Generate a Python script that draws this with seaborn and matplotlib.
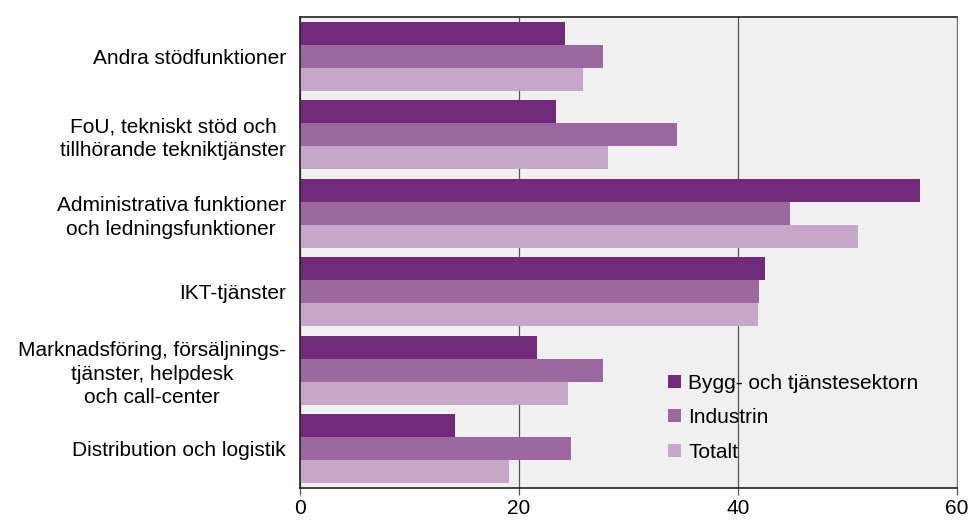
import pandas as pd
import seaborn as sns
import matplotlib
matplotlib.use('Agg')
import matplotlib.pyplot as plt

categories = ['Andra stödfunktioner',
              'FoU, tekniskt stöd och\ntillhörande tekniktjänster',
              'Administrativa funktioner\noch ledningsfunktioner',
              'IKT-tjänster',
              'Marknadsföring, försäljnings-\ntjänster, helpdesk\noch call-center',
              'Distribution och logistik']
series = ['Bygg- och tjänstesektorn', 'Industrin', 'Totalt']
bygg = [24.2, 23.4, 56.6, 42.5, 21.7, 14.2]
industrin = [27.7, 34.4, 44.8, 41.9, 27.7, 24.8]
totalt = [25.9, 28.1, 51.0, 41.8, 24.5, 19.1]
colors = ['#722a7a', '#9b69a0', '#c6a7ca']

rows = []
for s, vals in zip(series, [bygg, industrin, totalt]):
    for c, v in zip(categories, vals):
        rows.append({'kategori': c, 'serie': s, 'varde': v})
df = pd.DataFrame(rows)

sns.set_style('white')
plt.rcParams['font.family'] = ['Liberation Sans', 'DejaVu Sans']
plt.rcParams['text.color'] = 'black'
plt.rcParams['xtick.labelcolor'] = 'black'
plt.rcParams['ytick.labelcolor'] = 'black'

fig = plt.figure(figsize=(9.7, 5.23), dpi=100)
ax = fig.add_axes([0.309, 0.067, 0.6776, 0.9005])
ax.set_facecolor('#f0f0f0')

sns.barplot(data=df, x='varde', y='kategori', hue='serie', palette=colors,
            orient='h', width=0.88, ax=ax, saturation=1, linewidth=0, zorder=3)

ax.set_xlim(0, 60)
ax.set_xticks([0, 20, 40, 60])
ax.xaxis.grid(True, color='#555555', linewidth=0.9, zorder=0)
ax.set_axisbelow(True)
ax.set_xlabel('')
ax.set_ylabel('')
ax.tick_params(axis='x', direction='out', length=5, width=0.9, color='#555555',
               labelsize=15, pad=3, bottom=True, labelcolor='black')
ax.tick_params(axis='y', length=0, labelsize=15, pad=10, labelcolor='black')
for lab in ax.get_yticklabels():
    lab.set_multialignment('center')
    lab.set_linespacing(1.3)

for side in ['left', 'bottom', 'top']:
    ax.spines[side].set_color('#222222')
    ax.spines[side].set_linewidth(1.2)
ax.spines['right'].set_color('#777777')
for sp in ax.spines.values():
    sp.set_zorder(5)

leg = ax.legend(loc='upper left', bbox_to_anchor=(0.545, 0.265), frameon=False,
                fontsize=15, handlelength=0.6, handleheight=0.6, borderpad=0,
                handletextpad=0.35, labelspacing=0.75)
for t in leg.get_texts():
    t.set_color('black')

fig.savefig('out.png', dpi=100)
